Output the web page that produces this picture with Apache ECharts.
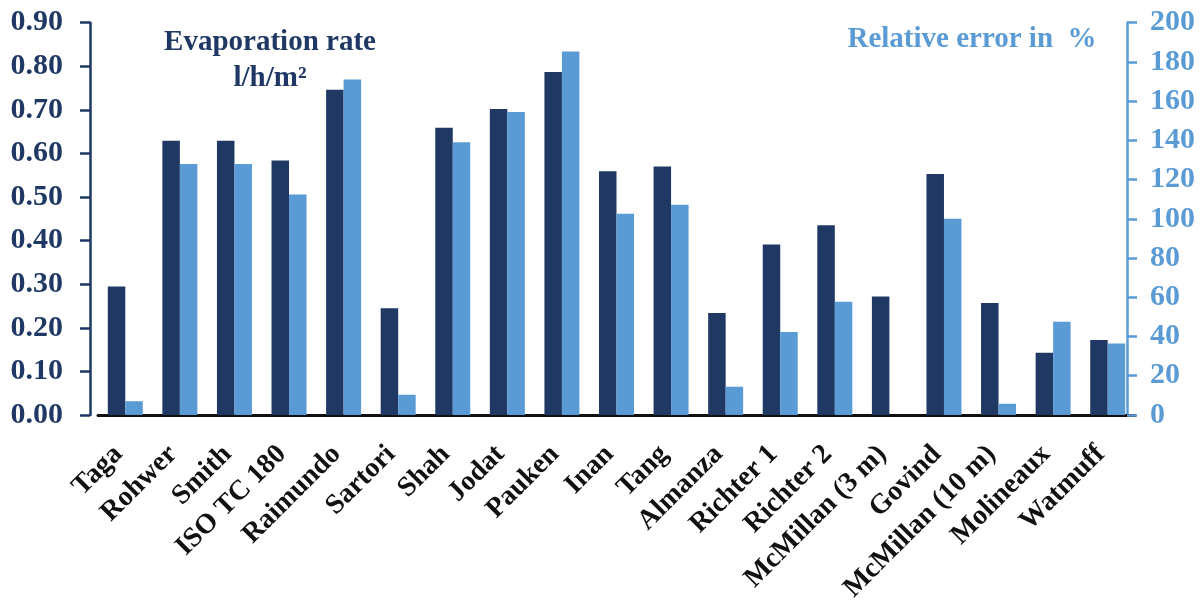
<!DOCTYPE html>
<html>
<head>
<meta charset="utf-8">
<script src="https://cdn.jsdelivr.net/npm/echarts@6/dist/echarts.min.js"></script>
<style>
html,body{margin:0;padding:0;background:#fff;}
#c{width:1202px;height:605px;}
</style>
</head>
<body>
<div id="c"></div>
<script>
var categories = ['Taga','Rohwer','Smith','ISO TC 180','Raimundo','Sartori','Shah','Jodat','Pauken','Inan','Tang','Almanza','Richter 1','Richter 2','McMillan (3 m)','Govind','McMillan (10 m)','Molineaux','Watmuff'];
var evaporationRate = [0.295,0.629,0.629,0.584,0.746,0.245,0.659,0.702,0.787,0.559,0.570,0.234,0.391,0.435,0.272,0.553,0.257,0.143,0.172];
var relativeError = [7,128,128,112.4,171,10.3,139,154.5,185.3,102.6,107.2,14.4,42.3,57.7,null,100.1,5.7,47.5,36.4];
var leftTitle = 'Evaporation rate';
var leftUnit = 'l/h/m²';
var rightTitle = 'Relative error in  %';

var DARK = '#1F3864', LIGHT = '#5B9BD5';
var FONT = '"Liberation Serif", "Times New Roman", serif';

var chart = echarts.init(document.getElementById('c'), null, {renderer:'canvas'});
chart.setOption({
  animation:false,
  backgroundColor:'#fff',
  textStyle:{fontFamily:FONT},
  title:[
    {text:leftTitle, left:265, top:23, textAlign:'center', textStyle:{fontFamily:FONT,fontWeight:'bold',fontSize:29,color:DARK}},
    {text:leftUnit, left:265, top:59, textAlign:'center', textStyle:{fontFamily:FONT,fontWeight:'bold',fontSize:29,color:DARK}},
    {text:rightTitle, left:967, top:20, textAlign:'center', textStyle:{fontFamily:FONT,fontWeight:'bold',fontSize:29,color:LIGHT}}
  ],
  grid:{left:98, right:67, top:22.7, bottom:188, containLabel:false},
  xAxis:{
    type:'category', data:categories,
    axisLine:{show:true, lineStyle:{color:'#111', width:3}},
    axisTick:{show:false},
    axisLabel:{interval:0, rotate:45, margin:28, padding:[0,10,0,0], fontFamily:FONT, fontWeight:'bold', fontSize:28, color:'#111'}
  },
  yAxis:[
    {type:'value', min:0, max:0.9, interval:0.1, position:'left', offset:8,
     splitLine:{show:false},
     axisLine:{show:true, lineStyle:{color:DARK, width:2.5}},
     axisTick:{show:true, inside:false, length:10, lineStyle:{color:DARK, width:2.5}},
     axisLabel:{margin:27, fontFamily:FONT, fontWeight:'bold', fontSize:30, color:DARK,
       formatter:function(v){return v.toFixed(2);}}
    },
    {type:'value', min:0, max:200, interval:20, position:'right', offset:-8,
     splitLine:{show:false},
     axisLine:{show:true, lineStyle:{color:LIGHT, width:2.5}},
     axisTick:{show:true, inside:false, length:10, lineStyle:{color:LIGHT, width:2.5}},
     axisLabel:{margin:23, fontFamily:FONT, fontWeight:'bold', fontSize:30, color:LIGHT}
    }
  ],
  series:[
    {name:'Evaporation rate', type:'bar', yAxisIndex:0, data:evaporationRate, barWidth:17.5, barGap:'0%',
     itemStyle:{color:DARK}},
    {name:'Relative error', type:'bar', yAxisIndex:1, data:relativeError, barWidth:17.5, barGap:'0%',
     itemStyle:{color:LIGHT}}
  ]
});
</script>
</body>
</html>
